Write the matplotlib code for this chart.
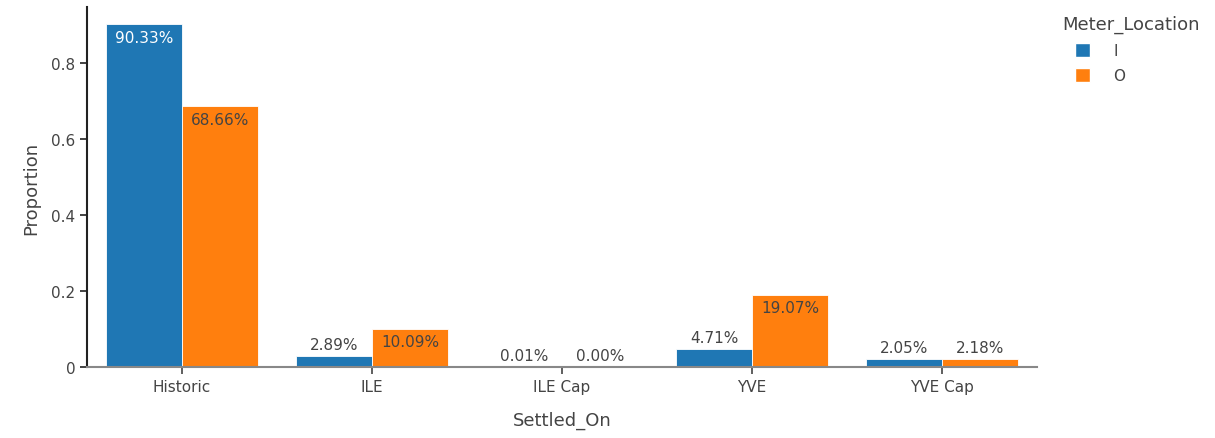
import numpy as np
import matplotlib
matplotlib.use("Agg")
import matplotlib.pyplot as plt
from matplotlib.patches import Patch

categories = ["Historic", "ILE", "ILE Cap", "YVE", "YVE Cap"]
series_names = ["I", "O"]
prop_I = [0.9033, 0.0289, 0.0001, 0.0471, 0.0205]
prop_O = [0.6866, 0.1009, 0.0000, 0.1907, 0.0218]
colors = ["#1f77b4", "#ff7f0e"]
inside_text_colors = ["white", "#444444"]

TXT = "#444444"
plt.rcParams["font.family"] = ["DejaVu Sans"]

fig = plt.figure(figsize=(12.15, 4.39), dpi=100)
ax = fig.add_axes([87 / 1215, 1 - 368 / 439, 950 / 1215, 360 / 439])

x = np.arange(len(categories))
width = 0.4
for i, (vals, name) in enumerate(zip([prop_I, prop_O], series_names)):
    xs = x + (i - 0.5) * width
    ax.bar(xs, vals, width, color=colors[i], edgecolor="white", linewidth=0.6, label=name)
    for xi, v in zip(xs, vals):
        label = f"{v * 100:.2f}%"
        if v > 0.07:
            ax.annotate(label, (xi, v), xytext=(0, -4), textcoords="offset points",
                        ha="center", va="top", fontsize=11, color=inside_text_colors[i])
        else:
            ax.annotate(label, (xi, v), xytext=(0, 3), textcoords="offset points",
                        ha="center", va="bottom", fontsize=11, color=TXT)

ax.set_xlim(-0.5, len(categories) - 0.5)
ax.set_ylim(0, 0.9033 * 1.05)
ax.set_xticks(x)
ax.set_xticklabels(categories)
ax.set_yticks([0, 0.2, 0.4, 0.6, 0.8])
ax.set_yticklabels(["0", "0.2", "0.4", "0.6", "0.8"])
ax.tick_params(axis="both", labelsize=11, colors=TXT, length=5, width=1.2)
ax.tick_params(axis="y", colors="#222222", labelcolor=TXT)

for s in ["top", "right"]:
    ax.spines[s].set_visible(False)
ax.spines["left"].set_color("#222222")
ax.spines["left"].set_linewidth(1.5)
ax.spines["bottom"].set_color("#888888")
ax.spines["bottom"].set_linewidth(1.5)

ax.set_xlabel("Settled_On", fontsize=13, color=TXT, labelpad=12)
ax.set_ylabel("Proportion", fontsize=13, color=TXT, labelpad=8)

# legend title drawn separately so the entries can sit indented under it
fig.text(1062 / 1215, 1 - 25 / 439, "Meter_Location", fontsize=13, color=TXT,
         ha="left", va="center")
handles = [Patch(facecolor=c, edgecolor="white") for c in colors]
leg = fig.legend(handles, series_names, loc="upper left",
                 bbox_to_anchor=(1075 / 1215, 1 - 44 / 439), frameon=False,
                 fontsize=11, handlelength=1.0, handleheight=1.0,
                 handletextpad=1.5, labelspacing=0.65, borderaxespad=0, borderpad=0)
for t in leg.get_texts():
    t.set_color(TXT)

fig.savefig("out.png", dpi=100)
